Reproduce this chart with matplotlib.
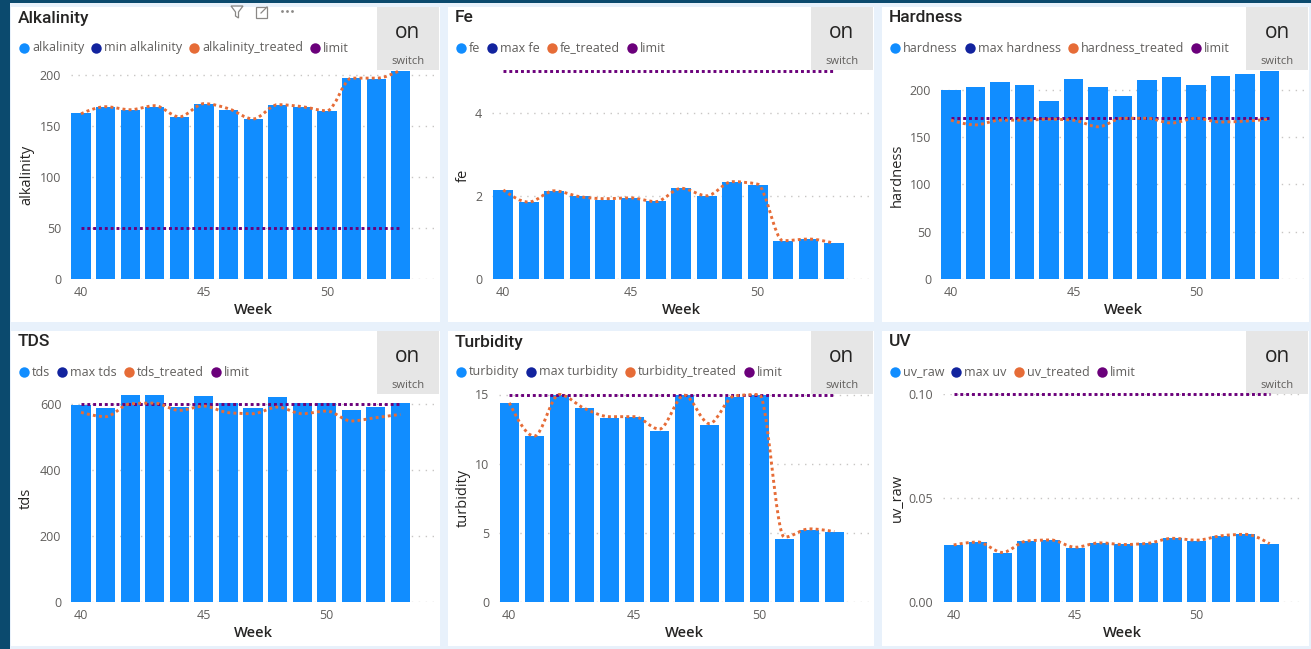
import numpy as np
import matplotlib.pyplot as plt
from matplotlib.path import Path
from matplotlib.patches import PathPatch, Rectangle, Polygon

# weekly values per parameter
weeks = [40, 41, 42, 43, 44, 45, 46, 47, 48, 49, 50, 51, 52, 53]
week_ticks = [40, 45, 50]

alkalinity = [163, 169, 166, 169, 159, 172, 166, 157, 171, 169, 165, 197, 196, 205]
alkalinity_treated = [162, 169, 166, 170, 159, 172, 167, 157, 171, 169, 165, 197, 197, 205]
alkalinity_limit = 50

fe = [2.14, 1.84, 2.12, 1.99, 1.91, 1.94, 1.87, 2.19, 2.00, 2.34, 2.27, 0.91, 0.95, 0.86]
fe_treated = [2.14, 1.85, 2.12, 1.98, 1.93, 1.95, 1.86, 2.18, 2.00, 2.34, 2.28, 0.92, 0.96, 0.86]
fe_limit = 5

hardness = [200, 203, 208, 205, 188, 212, 203, 194, 210, 214, 205, 215, 217, 220]
hardness_treated = [168, 163, 168, 168, 169, 168, 161, 170, 170, 165, 170, 166, 167, 169]
hardness_limit = 170

tds = [595, 588, 628, 628, 591, 624, 601, 588, 619, 603, 603, 581, 591, 603]
tds_treated = [574, 561, 600, 602, 580, 593, 573, 570, 590, 570, 578, 548, 558, 568]
tds_limit = 600

turbidity = [14.4, 12.0, 15.0, 14.0, 13.3, 13.4, 12.4, 15.0, 12.8, 14.8, 15.0, 4.6, 5.2, 5.1]
turbidity_treated = [14.4, 12.0, 15.0, 14.0, 13.4, 13.4, 12.5, 14.95, 12.9, 14.9, 15.0, 4.7, 5.3, 5.1]
turbidity_limit = 15

uv_raw = [0.0276, 0.0291, 0.0239, 0.0295, 0.0299, 0.0262, 0.0287, 0.0279, 0.0284, 0.0311,
          0.0295, 0.0321, 0.0329, 0.0282]
uv_treated = [0.0276, 0.0290, 0.0240, 0.0295, 0.0300, 0.0265, 0.0286, 0.0278, 0.0284, 0.0308,
              0.0299, 0.0320, 0.0327, 0.0282]
uv_limit = 0.10

titles = ["Alkalinity", "Fe", "Hardness", "TDS", "Turbidity", "UV"]
ylabels = ["alkalinity", "fe", "hardness", "tds", "turbidity", "uv_raw"]
legend_labels = [
    ["alkalinity", "min alkalinity", "alkalinity_treated", "limit"],
    ["fe", "max fe", "fe_treated", "limit"],
    ["hardness", "max hardness", "hardness_treated", "limit"],
    ["tds", "max tds", "tds_treated", "limit"],
    ["turbidity", "max turbidity", "turbidity_treated", "limit"],
    ["uv_raw", "max uv", "uv_treated", "limit"],
]
raw_series = [alkalinity, fe, hardness, tds, turbidity, uv_raw]
treated_series = [alkalinity_treated, fe_treated, hardness_treated, tds_treated,
                  turbidity_treated, uv_treated]
limits = [alkalinity_limit, fe_limit, hardness_limit, tds_limit, turbidity_limit, uv_limit]
y_ticks = [[0, 50, 100, 150, 200], [0, 2, 4], [0, 50, 100, 150, 200],
           [0, 200, 400, 600], [0, 5, 10, 15], [0.0, 0.05, 0.10]]
y_max = [204, 5.0, 220, 628, 15, 0.10]
y_fmt = ["{:.0f}", "{:.0f}", "{:.0f}", "{:.0f}", "{:.0f}", "{:.2f}"]

BLUE = "#118DFF"
NAVY = "#12239E"
ORANGE = "#E66C37"
PURPLE = "#6B007B"
legend_colors = [BLUE, NAVY, ORANGE, PURPLE]
DARK = "#252423"
GREY = "#605E5C"
ICON = "#8A8886"

W, H = 1311, 649
FONT = "Open Sans"

# pixel layout: white card boxes and plot areas
cards = [(11, 7, 440, 322), (448, 7, 874, 322), (882, 7, 1309, 322),
         (11, 331, 440, 646), (448, 331, 874, 646), (882, 331, 1309, 646)]
# left, right, top, bottom, x of week 40, px per week
plot_areas = [(71, 435, 71, 279, 81.0, 24.6), (492, 870, 71, 279, 503.3, 25.43),
              (941, 1305, 71, 279, 951.0, 24.5), (71, 435, 394.5, 602.3, 81.0, 24.57),
              (499, 870, 394.5, 602.3, 509.3, 25.0), (943, 1302, 394.5, 602.3, 953.7, 24.3)]


def smooth_path(x, y):
    # monotone cubic through the points, as bezier segments
    x = np.asarray(x, float)
    y = np.asarray(y, float)
    h = np.diff(x)
    s = np.diff(y) / h
    n = len(x)
    m = np.zeros(n)
    for i in range(1, n - 1):
        p = (s[i - 1] * h[i] + s[i] * h[i - 1]) / (h[i - 1] + h[i])
        m[i] = (np.sign(s[i - 1]) + np.sign(s[i])) * min(abs(s[i - 1]), abs(s[i]), 0.5 * abs(p))
    m[0] = (3 * s[0] - m[1]) / 2
    m[-1] = (3 * s[-1] - m[-2]) / 2
    verts = [(x[0], y[0])]
    codes = [Path.MOVETO]
    for i in range(n - 1):
        d = h[i] / 3
        verts += [(x[i] + d, y[i] + m[i] * d), (x[i + 1] - d, y[i + 1] - m[i + 1] * d),
                  (x[i + 1], y[i + 1])]
        codes += [Path.CURVE4] * 3
    return Path(verts, codes)


fig = plt.figure(figsize=(W / 100, H / 100), dpi=100)
fig.patch.set_facecolor("#E8F1FB")
renderer = fig.canvas.get_renderer()

bg = fig.add_axes([0, 0, 1, 1])
bg.set_xlim(0, W)
bg.set_ylim(H, 0)
bg.axis("off")
bg.add_patch(Rectangle((0, 0), 10, H, color="#0B4A6E", lw=0))
bg.add_patch(Rectangle((0, 0), W, 3, color="#0B4A6E", lw=0))

for k in range(6):
    cx0, cy0, cx1, cy1 = cards[k]
    bg.add_patch(Rectangle((cx0, cy0), cx1 - cx0, cy1 - cy0, color="white", lw=0))
    # switch box
    bg.add_patch(Rectangle((cx1 - 63, cy0), 62, 63, color="#E6E6E6", lw=0))
    bg.text(cx1 - 32, cy0 + 26, "on", ha="center", va="center", fontsize=15,
            color=DARK, family=FONT)
    bg.text(cx1 - 32, cy0 + 54, "switch", ha="center", va="center", fontsize=8,
            color=GREY, family=FONT)
    bg.text(cx0 + 7, cy0 + 11, titles[k], ha="left", va="center", fontsize=12.5,
            color=DARK, family="Roboto", fontweight="medium")

    # legend row
    lx = cx0 + 13
    ly = cy0 + 41
    for label, color in zip(legend_labels[k], legend_colors):
        bg.plot(lx, ly, "o", ms=7.5, color=color, mec="none")
        t = bg.text(lx + 8, ly, label, ha="left", va="center", fontsize=9,
                    color=GREY, family=FONT)
        lx = lx + 8 + t.get_window_extent(renderer).width + 12

    left, right, top, bottom, x40, dx = plot_areas[k]
    ax = fig.add_axes([left / W, 1 - bottom / H, (right - left) / W, (bottom - top) / H])
    ax.set_facecolor("none")
    ax.set_xlim(40 - (x40 - left) / dx, 40 + (right - x40) / dx)
    ax.set_ylim(0, y_max[k])

    ax.bar(weeks, raw_series[k], width=0.78, color=BLUE, zorder=2)
    ax.plot([weeks[0], weeks[-1]], [limits[k], limits[k]], color=PURPLE, lw=2.1,
            dashes=(1, 1), dash_capstyle="butt", zorder=3, clip_on=False)
    ax.add_patch(PathPatch(smooth_path(weeks, treated_series[k]), fill=False,
                           edgecolor=ORANGE, lw=2.1, linestyle=(0, (1, 1.1)),
                           capstyle="butt", zorder=4, clip_on=False))

    for v in y_ticks[k]:
        ax.axhline(v, color="#C8C6C4", lw=1, linestyle=(0, (1, 4)), zorder=1)
    ax.set_yticks(y_ticks[k])
    ax.set_yticklabels([y_fmt[k].format(v) for v in y_ticks[k]])
    ax.set_xticks(week_ticks)
    for s in ax.spines.values():
        s.set_visible(False)
    ax.tick_params(length=0, labelsize=9, labelcolor=GREY, pad=7)
    ax.tick_params(axis="x", pad=5)
    for lab in ax.get_xticklabels() + ax.get_yticklabels():
        lab.set_family(FONT)

    bg.text((left + right) / 2, bottom + 31, "Week", ha="center", va="center",
            fontsize=10.5, color=DARK, family=FONT, fontweight="semibold")
    bg.text(cx0 + 15.5, (top + bottom) / 2, ylabels[k], ha="center", va="center",
            rotation=90, fontsize=10.5, color=DARK, family=FONT)

# header icons on the first card
bg.add_patch(Polygon([(231, 6), (243, 6), (238.5, 12), (238.5, 18), (235.5, 16), (235.5, 12)],
                     closed=True, fill=False, edgecolor=ICON, lw=0.9))
bg.add_patch(Rectangle((256, 7), 11, 11, fill=False, edgecolor=ICON, lw=0.9))
bg.plot([261, 267], [13, 7], color=ICON, lw=0.9)
bg.plot([282, 287, 292], [11, 11, 11], "o", ms=2, color=ICON, mec="none")

fig.savefig("out.png", dpi=100, facecolor=fig.get_facecolor())
